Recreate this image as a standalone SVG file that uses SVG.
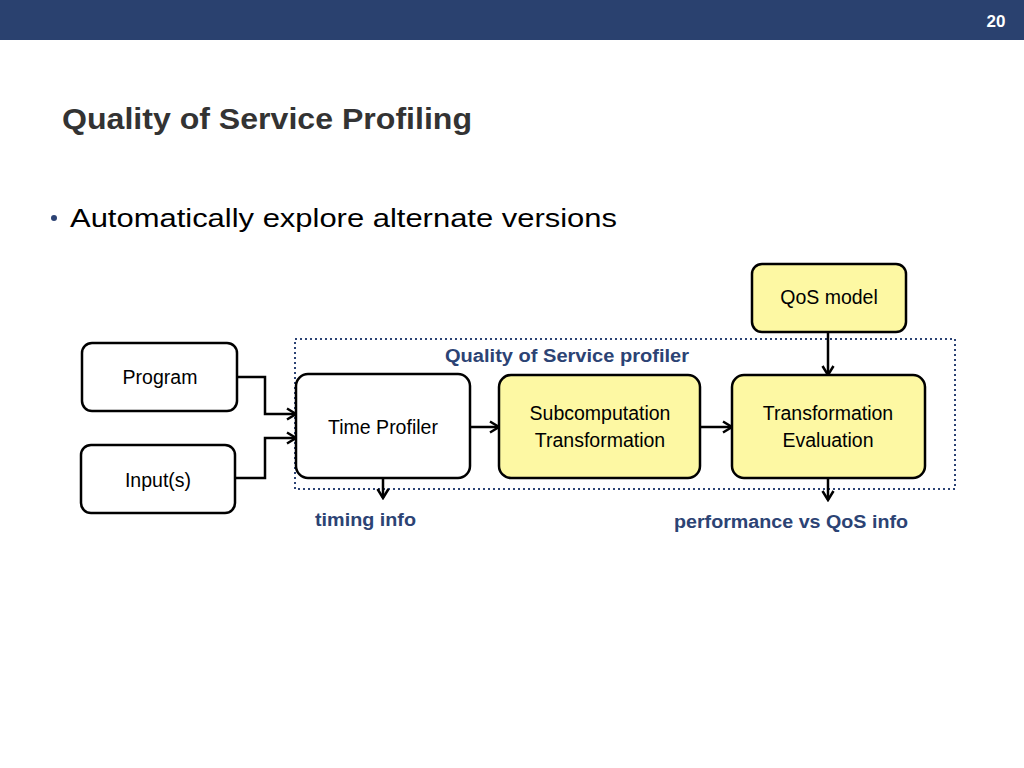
<svg xmlns="http://www.w3.org/2000/svg" width="1024" height="768" viewBox="0 0 1024 768">
<defs>
<style>
text{font-family:"Liberation Sans","DejaVu Sans",sans-serif}
.box{stroke:#000;stroke-width:2.5;fill:#fff}
.yel{fill:#fdf8a3}
.lbl{font-size:19.5px;fill:#000;text-anchor:middle}
.blue{font-weight:bold;fill:#2c4374;font-size:18px}
.con{fill:none;stroke:#000;stroke-width:2.5}
</style>
<marker id="ah" viewBox="0 0 14 14" refX="12" refY="7" markerWidth="14" markerHeight="14" markerUnits="userSpaceOnUse" orient="auto">
<path d="M3,1.5 L12,7 L3,12.5" fill="none" stroke="#000" stroke-width="2.5"/>
</marker>
</defs>
<rect width="1024" height="768" fill="#fff"/>
<rect x="0" y="0" width="1024" height="40" fill="#2a416f"/>
<text x="996" y="27" font-size="17" font-weight="bold" fill="#fff" text-anchor="middle">20</text>
<text x="62" y="129" font-size="30" font-weight="bold" fill="#333" textLength="410" lengthAdjust="spacingAndGlyphs">Quality of Service Profiling</text>
<circle cx="54" cy="218" r="3" fill="#2c4374"/>
<text x="70" y="227" font-size="26" fill="#000" textLength="547" lengthAdjust="spacingAndGlyphs">Automatically explore alternate versions</text>

<rect x="295" y="339" width="660" height="150" fill="none" stroke="#2c4374" stroke-width="2" stroke-dasharray="2,3"/>
<text class="blue" x="445" y="362" textLength="244" lengthAdjust="spacingAndGlyphs">Quality of Service profiler</text>

<g id="connectors">
<path class="con" d="M237,377 H265 V414 H296" marker-end="url(#ah)"/>
<path class="con" d="M235,478 H265 V438 H296" marker-end="url(#ah)"/>
<path class="con" d="M470,427 H499" marker-end="url(#ah)"/>
<path class="con" d="M700,427 H732" marker-end="url(#ah)"/>
<path class="con" d="M828,332 V375" marker-end="url(#ah)"/>
<path class="con" d="M383,478 V498" marker-end="url(#ah)"/>
<path class="con" d="M828,478 V500" marker-end="url(#ah)"/>
</g>

<g id="program">
<rect class="box" x="82" y="343" width="155" height="68" rx="10"/>
<text class="lbl" x="160" y="384">Program</text>
</g>
<g id="inputs">
<rect class="box" x="81" y="445" width="154" height="68" rx="10"/>
<text class="lbl" x="158" y="487">Input(s)</text>
</g>
<g id="time-profiler">
<rect class="box" x="296" y="374" width="174" height="104" rx="12"/>
<text class="lbl" x="383" y="434">Time Profiler</text>
</g>
<g id="subcomputation">
<rect class="box yel" x="499" y="375" width="201" height="103" rx="12"/>
<text class="lbl" x="600" y="420">Subcomputation</text>
<text class="lbl" x="600" y="447">Transformation</text>
</g>
<g id="evaluation">
<rect class="box yel" x="732" y="375" width="193" height="103" rx="12"/>
<text class="lbl" x="828" y="420">Transformation</text>
<text class="lbl" x="828" y="447">Evaluation</text>
</g>
<g id="qos-model">
<rect class="box yel" x="752" y="264" width="154" height="68" rx="10"/>
<text class="lbl" x="829" y="304">QoS model</text>
</g>

<text class="blue" x="315" y="526" textLength="101" lengthAdjust="spacingAndGlyphs">timing info</text>
<text class="blue" x="674" y="528" textLength="234" lengthAdjust="spacingAndGlyphs">performance vs QoS info</text>
</svg>
